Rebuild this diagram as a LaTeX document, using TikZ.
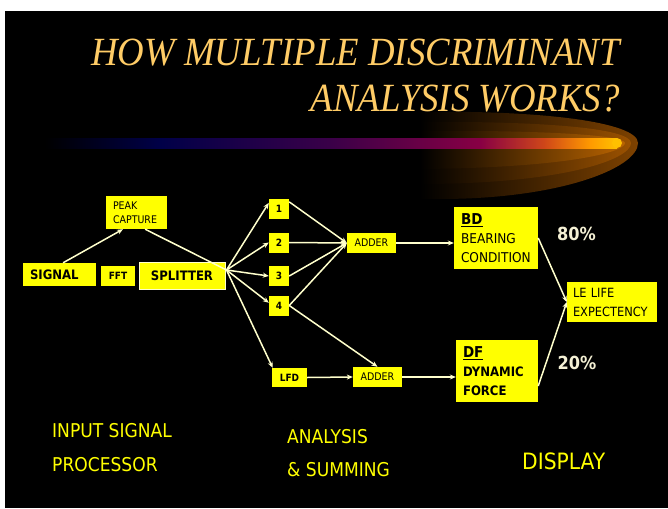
\documentclass[tikz,border=0pt]{standalone}
\usepackage{fontspec}
\usetikzlibrary{arrows.meta,calc}
\newfontfamily\tah[FakeStretch=0.9]{DejaVu Sans}
\newfontfamily\ttl[FakeStretch=0.92]{Liberation Serif}
\definecolor{ttlc}{HTML}{FFCC66}
\definecolor{ybox}{HTML}{FFFF00}
\definecolor{cream}{HTML}{FFFFCC}
\definecolor{pct}{HTML}{F4F0D4}
\definecolor{glowA}{HTML}{7E4200}
\definecolor{glowB}{HTML}{9C5200}
\definecolor{glowC}{HTML}{BA6400}
\definecolor{barA}{HTML}{000048}
\definecolor{barB}{HTML}{3A0048}
\definecolor{barC}{HTML}{880044}
\definecolor{barD}{HTML}{D04818}
\definecolor{barE}{HTML}{FF9A00}
\definecolor{barF}{HTML}{FFC000}
\tikzset{
  ttlstyle/.style={text=ttlc, inner sep=0, font=\ttl\itshape\fontsize{40}{46}\selectfont},
  yb/.style={fill=ybox, inner sep=0, text=black},
  conn/.style={draw=cream, line width=1.5pt, -{Stealth[length=6pt,width=5pt]}},
  plainconn/.style={draw=cream, line width=1.5pt},
  lbl/.style={text=ybox, inner sep=0, anchor=base west, font=\tah\fontsize{19}{22}\selectfont},
  pctstyle/.style={text=pct, inner sep=0, font=\tah\bfseries\fontsize{18}{20}\selectfont}
}
\begin{document}
\begin{tikzpicture}[x=1pt,y=-1pt]
\useasboundingbox (0,0) rectangle (668,508);
\fill[white] (0,0) rectangle (668,508);
\fill[black] (5,11) rectangle (668,508);

% glow
\shade[left color=black, middle color=glowA!85!black, right color=glowA]
  (420,112) .. controls (540,110) and (638,122) .. (638,143)
  .. controls (638,168) and (560,199) .. (440,199) -- (420,199) -- cycle;
\shade[left color=black, middle color=glowB!80!black, right color=glowB]
  (420,122) .. controls (540,121) and (631,128) .. (631,143)
  .. controls (631,160) and (560,184) .. (420,184) -- cycle;
\shade[left color=black, middle color=glowC!75!black, right color=glowC]
  (420,131) .. controls (540,130) and (625,135) .. (625,143)
  .. controls (625,153) and (560,168) .. (420,169) -- cycle;

% bar
\shade[left color=black, right color=barA] (45,138) rectangle (160.5,148);
\shade[left color=barA, right color=barB] (160,138) rectangle (330.5,148);
\shade[left color=barB, right color=barC] (330,138) rectangle (480.5,148);
\shade[left color=barC, right color=barD] (480,138) rectangle (545.5,148);
\shade[left color=barD, right color=barE] (545,138) rectangle (590.5,148);
\shade[left color=barE, right color=barF] (590,138) rectangle (617,148);
\fill[barF] (617,143) circle (5);

% title
\node[ttlstyle, anchor=base east] (t1) at (620,66) {HOW MULTIPLE DISCRIMINANT};
\node[ttlstyle, anchor=base east] (t2) at (620,111) {ANALYSIS WORKS?};

% boxes
\node[yb, minimum width=61, minimum height=33, text width=47, inner xsep=7, align=left,
      font=\tah\fontsize{10.5}{14}\selectfont] (peak) at (136.5,212.5) {PEAK\\CAPTURE};
\node[yb, minimum width=73, minimum height=23, text width=59, inner xsep=7, align=left,
      font=\tah\bfseries\fontsize{13}{15}\selectfont] (signal) at (59.5,274.5) {SIGNAL};
\node[yb, minimum width=34, minimum height=20,
      font=\tah\bfseries\fontsize{10}{12}\selectfont] (fft) at (118,276) {FFT};
\node[yb, draw=cream, line width=1pt, minimum width=86, minimum height=27,
      font=\tah\bfseries\fontsize{13}{15}\selectfont] (splitter) at (182,275.5) {SPLITTER};
\node[yb, minimum width=20, minimum height=20, font=\tah\bfseries\fontsize{10}{12}\selectfont] (n1) at (279,209) {1};
\node[yb, minimum width=20, minimum height=20, font=\tah\bfseries\fontsize{10}{12}\selectfont] (n2) at (279,242.5) {2};
\node[yb, minimum width=20, minimum height=20, font=\tah\bfseries\fontsize{10}{12}\selectfont] (n3) at (279,276) {3};
\node[yb, minimum width=20, minimum height=20, font=\tah\bfseries\fontsize{10}{12}\selectfont] (n4) at (279,305.5) {4};
\node[yb, minimum width=35, minimum height=19, font=\tah\bfseries\fontsize{10}{12}\selectfont] (lfd) at (289.5,377.5) {LFD};
\node[yb, minimum width=49, minimum height=20, font=\tah\fontsize{10.5}{12}\selectfont] (adder1) at (371.5,243) {ADDER};
\node[yb, minimum width=49, minimum height=20, font=\tah\fontsize{10.5}{12}\selectfont] (adder2) at (377.5,377) {ADDER};
\node[yb, minimum width=84, minimum height=62, text width=70, inner xsep=7, align=left,
      font=\tah\fontsize{13.5}{19}\selectfont] (bd) at (496,238)
      {{\bfseries\fontsize{15}{19}\selectfont\underline{BD}}\\BEARING\\CONDITION};
\node[yb, minimum width=82, minimum height=62, text width=68, inner xsep=7, align=left,
      font=\tah\bfseries\fontsize{13}{19}\selectfont] (df) at (497,371)
      {{\fontsize{15}{19}\selectfont\underline{DF}}\\DYNAMIC\\FORCE};
\node[yb, minimum width=90, minimum height=40, text width=78, inner xsep=6, align=left,
      font=\tah\fontsize{12.7}{19}\selectfont] (le) at (612,302) {LE LIFE\\EXPECTENCY};

\node[pctstyle] (p80) at (576.5,233.5) {80\%};
\node[pctstyle] (p20) at (577,362.5) {20\%};

% connectors
\coordinate (sj) at ($(splitter.east)+(1,-5.5)$);
\draw[conn] (signal.73) -- ($(peak.south west)!0.28!(peak.south east)$);
\draw[plainconn] ($(peak.south west)!0.64!(peak.south east)$) -- (sj);
\draw[conn] (sj) -- (n1.149);
\draw[conn] (sj) -- (n2.west);
\draw[conn] (sj) -- (n3.west);
\draw[conn] (sj) -- (n4.165);
\draw[conn] (sj) -- (lfd.150);
\draw[conn] (n1.35) -- (adder1.west);
\draw[conn] (n2.east) -- (adder1.west);
\draw[conn] (n3.east) -- (adder1.west);
\draw[conn] (n4.east) -- (adder1.west);
\draw[conn] (n4.east) -- (adder2.north);
\draw[conn] (lfd.east) -- (adder2.west);
\draw[conn] (adder1.east) -- (adder1.east -| bd.west);
\draw[conn] (adder2.east) -- (adder2.east -| df.west);
\draw[conn] (bd.east) -- (le.west);
\draw[conn] (df.340) -- (le.west);

% bottom labels
\node[lbl] (l1) at (52,437) {INPUT SIGNAL};
\node[lbl] (l2) at (52,471) {PROCESSOR};
\node[lbl] (l3) at (287,443) {ANALYSIS};
\node[lbl] (l4) at (287,476) {\& SUMMING};
\node[lbl, font=\tah\fontsize{22.5}{26}\selectfont] (l5) at (522,469) {DISPLAY};
\end{tikzpicture}
\end{document}
